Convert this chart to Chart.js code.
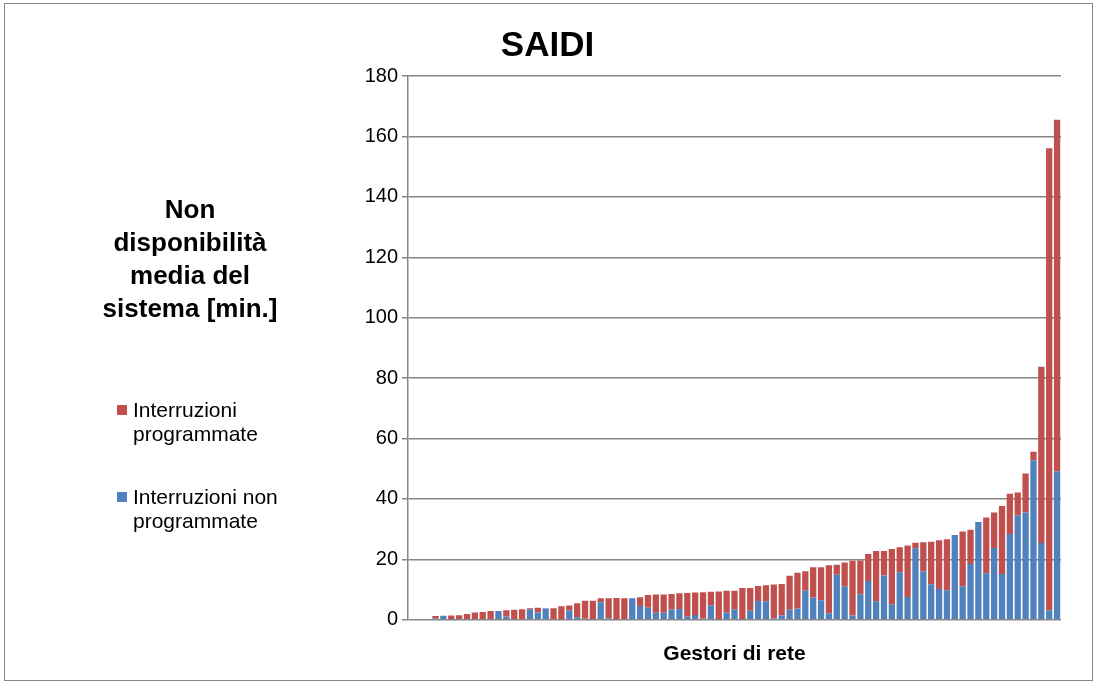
<!DOCTYPE html>
<html lang="it">
<head>
	<meta charset="UTF-8">
	<title>SAIDI</title>
	<script src="https://cdn.jsdelivr.net/npm/chart.js@4.4.1/dist/chart.umd.min.js"></script>
	<style>
		body,html{padding:0;margin:0;background:#fff;}
		#wrap{position:relative;width:1095px;height:683px;overflow:hidden;font-family:"Liberation Sans",Arial,sans-serif;}
		#frame{position:absolute;left:4px;top:3px;width:1087px;height:676px;border:1px solid #868686;}
		#chart{position:absolute;left:0;top:0;}
		#ytitle{position:absolute;left:70px;top:193px;width:240px;text-align:center;font-weight:bold;font-size:26px;line-height:33px;color:#000;}
		#legend{position:absolute;left:117px;top:398px;font-size:21px;line-height:24px;color:#000;}
		#legend .item{position:relative;padding-left:16px;margin-bottom:39px;}
		#legend .box{position:absolute;left:0;top:7px;width:10px;height:10px;}
	</style>
</head>
<body>
	<div id="wrap">
		<div id="frame"></div>
		<canvas id="chart" width="1095" height="683"></canvas>
		<div id="ytitle">Non<br>disponibilità<br>media del<br>sistema [min.]</div>
		<div id="legend"></div>
	</div>
	<script>
		// gestori di rete, ordinati per SAIDI totale
		var gestori = Array.from({length:83}, function(_, i){ return 'G' + (i + 1); });

		// minuti per gestore
		var nonProgrammate = [
			0, 0, 0.3, 0.45, 1.3, 0.1, 0, 0.3, 0, 0.3,
			0, 2.95, 1.1, 0, 0, 3.5, 2.4, 3.7, 0, 0.2,
			3.1, 0.85, 0.35, 0.2, 5.8, 0.5, 0.1, 0.3, 7.1, 4.6,
			4.0, 2.35, 2.3, 3.4, 3.6, 1.0, 1.55, 0.35, 4.8, 0.1,
			2.35, 3.4, 0.1, 3.0, 6.25, 6.1, 0.4, 1.4, 3.3, 3.7,
			9.6, 7.35, 6.5, 2.2, 14.9, 11.1, 1.4, 8.45, 12.85, 6.1,
			14.7, 5.15, 15.75, 7.55, 23.7, 16.1, 11.8, 10.2, 9.8, 28.1,
			11.1, 18.5, 32.4, 15.4, 23.8, 15.2, 28.4, 34.6, 35.5, 52.7,
			25.4, 3.2, 49.2
		];
		var programmate = [
			0, 0, 0, 0.8, 0, 1.3, 1.5, 1.65, 2.4, 2.25,
			2.95, 0, 2.1, 3.3, 3.5, 0.35, 1.55, 0.1, 3.8, 4.3,
			1.65, 4.65, 5.95, 6.1, 1.3, 6.6, 7.1, 6.8, 0, 2.9,
			4.2, 6.0, 6.05, 5.15, 5.15, 7.85, 7.5, 8.75, 4.45, 9.3,
			7.3, 6.25, 10.45, 7.55, 4.95, 5.3, 11.3, 10.45, 11.25, 11.85,
			6.45, 10.05, 10.9, 15.85, 3.3, 7.85, 18.15, 11.2, 8.95, 16.65,
			8.05, 18.3, 8.25, 17.05, 1.8, 9.6, 14.05, 16.1, 16.9, 0,
			18.1, 11.3, 0, 18.45, 11.75, 22.5, 13.3, 7.5, 12.9, 2.9,
			58.4, 152.9, 116.3
		];

		var yMax = 180, yStep = 20;

		var font = '"Liberation Sans", Arial, sans-serif';
		var ctx = document.getElementById('chart').getContext('2d');
		var chart = new Chart(ctx, {
			type: 'bar',
			data: {
				labels: gestori,
				datasets: [{
					label: 'Interruzioni non programmate',
					data: nonProgrammate,
					backgroundColor: '#4F81BD',
					borderWidth: 0,
					barPercentage: 0.8,
					categoryPercentage: 1
				}, {
					label: 'Interruzioni programmate',
					data: programmate,
					backgroundColor: '#C0504D',
					borderWidth: 0,
					barPercentage: 0.8,
					categoryPercentage: 1
				}]
			},
			options: {
				responsive: false,
				animation: false,
				layout: {padding: {left: 34, right: 34, top: 4, bottom: 6}},
				plugins: {
					legend: {display: false},
					tooltip: {enabled: false},
					title: {
						display: true,
						text: 'SAIDI',
						color: '#000',
						font: {family: font, size: 35, weight: 'bold', lineHeight: 1.2},
						padding: {top: 21, bottom: 9}
					}
				},
				scales: {
					x: {
						stacked: true,
						grid: {display: false, drawTicks: false},
						border: {display: false},
						ticks: {display: false},
						title: {
							display: true,
							text: 'Gestori di rete',
							color: '#000',
							font: {family: font, size: 21, weight: 'bold', lineHeight: 1.2},
							padding: {top: 22, bottom: 10}
						}
					},
					y: {
						stacked: true,
						min: 0,
						max: yMax,
						afterFit: function(scale){ scale.width = 374; },
						ticks: {stepSize: yStep, color: '#000', padding: 4, font: {family: font, size: 20}},
						grid: {color: '#868686', lineWidth: 1.5, tickLength: 6},
						border: {display: true, color: '#868686', width: 1.5}
					}
				}
			}
		});

		// legenda a sinistra, come nel foglio originale
		var legend = document.getElementById('legend');
		chart.data.datasets.slice().reverse().forEach(function(ds){
			var words = ds.label.split(' ');
			var first = words.length > 2 ? words.slice(0, 2).join(' ') : words[0];
			var item = document.createElement('div');
			item.className = 'item';
			item.innerHTML = '<span class="box" style="background:' + ds.backgroundColor + '"></span>' +
				first + '<br>programmate';
			legend.appendChild(item);
		});
	</script>
</body>
</html>
